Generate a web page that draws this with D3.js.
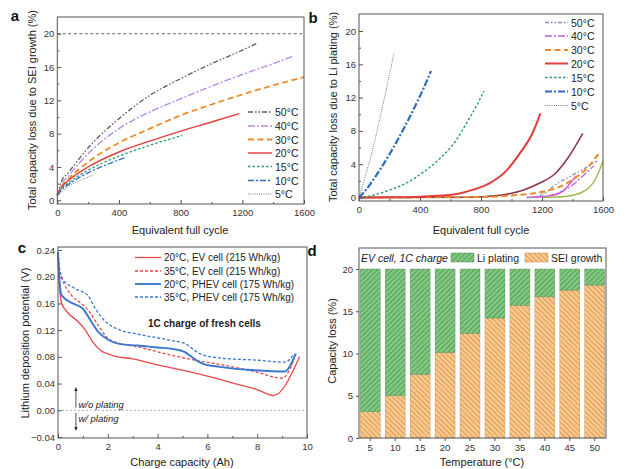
<!DOCTYPE html>
<html>
<head>
<meta charset="utf-8">
<script src="https://cdn.jsdelivr.net/npm/d3@7"></script>
<style>
  body { margin: 0; background: #fff; }
  svg { font-family: "Liberation Sans", Arial, sans-serif; }
  .tick text { font-size: 9.5px; fill: #333; }
  .tick line { stroke: #555; }
  .title { font-size: 11px; fill: #222; }
  .leg { font-size: 10.5px; fill: #222; }
</style>
</head>
<body>
<div id="fig"></div>
<script>
// ---------- data ----------
var cycleTicks = [0, 400, 800, 1200, 1600];
var cycleMinor = [200, 600, 1000, 1400];
var lossTicks = [0, 4, 8, 12, 16, 20];
var lossMinor = [2, 6, 10, 14, 18];

var tempNames = ["50°C", "40°C", "30°C", "20°C", "15°C", "10°C", "5°C"];

// a: capacity loss from SEI growth, [cycle, %]
var sei50 = [[0,0.6],[25,2.2],[71,3.3],[200,6.3],[400,9.8],[600,12.6],[800,14.6],[1000,16.4],[1150,17.6],[1290,18.8]];
var sei40 = [[0,0.6],[25,1.8],[80,3.1],[200,5.6],[400,8.6],[600,10.6],[800,12.2],[1000,13.7],[1200,15.1],[1400,16.4],[1530,17.3]];
var sei30 = [[0,0.6],[25,1.5],[80,2.7],[200,4.6],[400,6.9],[600,8.6],[800,10.2],[1000,11.5],[1200,12.7],[1400,13.8],[1600,14.8]];
var sei20 = [[0,0.6],[25,1.5],[80,2.5],[200,4.0],[400,5.8],[600,7.1],[800,8.3],[1000,9.4],[1180,10.4]];
var sei15 = [[0,0.6],[25,1.3],[80,2.2],[200,3.6],[400,5.3],[600,6.6],[810,7.8]];
var sei10 = [[0,0.6],[25,1.2],[80,2.0],[200,3.3],[350,4.5],[450,5.2]];
var sei5 = [[0,0.5],[60,1.5],[150,2.4],[230,3.0]];
var seiLimit = 20;

// b: capacity loss from Li plating, [cycle, %]
var plate50 = [[1100,0],[1200,0.3],[1285,1.5],[1380,2.5],[1480,3.5],[1560,4.4]];
var plate45 = [[1200,0],[1362,0.15],[1471,0.7],[1520,1.4],[1559,2.5],[1600,4.4]];
var plate40 = [[1150,0],[1300,0.5],[1400,1.5],[1480,2.8],[1540,3.8]];
var plate35 = [[1100,0],[1250,0.2],[1339,0.8],[1406,2.2],[1425,2.6]];
var plate30 = [[0,0],[800,0.05],[1000,0.25],[1150,0.5],[1252,0.9],[1318,1.3],[1428,2.5],[1500,3.6],[1580,5.5]];
var plate25 = [[0,0],[600,0.02],[800,0.1],[957,0.35],[1080,0.9],[1175,1.65],[1285,2.85],[1372,4.8],[1467,7.7]];
var plate20 = [[0,0],[200,0.02],[400,0.1],[630,0.4],[750,0.95],[848,1.65],[957,3.05],[1066,5.6],[1132,7.5],[1190,10.1]];
var plate15 = [[0,0],[100,0.3],[193,0.85],[302,1.65],[411,2.9],[520,4.5],[630,6.7],[717,9.3],[770,11],[820,12.8]];
var plate10 = [[0,0],[50,1.0],[100,2.3],[150,3.7],[200,5.2],[250,6.8],[300,8.5],[350,10.3],[400,12.2],[440,13.8],[472,15.2]];
var plate5 = [[0,0],[40,2.5],[83,5.3],[149,10.5],[190,13.9],[230,17.4]];

// c: lithium deposition potential, [Ah, V]
var potTicks = [-0.04, 0, 0.04, 0.08, 0.12, 0.16, 0.20, 0.24];
var capTicks = [0, 2, 4, 6, 8, 10];
var capMinor = [1, 3, 5, 7, 9];
var cellNames = ["20°C, EV cell (215 Wh/kg)", "35°C, EV cell (215 Wh/kg)",
                 "20°C, PHEV cell (175 Wh/kg)", "35°C, PHEV cell (175 Wh/kg)"];
var ev20 = [[0,0.237],[0.05,0.19],[0.15,0.16],[0.4,0.146],[0.8,0.133],[1.1,0.12],[1.4,0.102],[1.7,0.09],[2.2,0.082],[3.0,0.077],[4.0,0.068],[5.0,0.06],[6.0,0.051],[7.0,0.041],[8.0,0.031],[8.65,0.022],[9.7,0.08]];
var ev35 = [[0,0.237],[0.05,0.215],[0.15,0.2],[0.55,0.172],[1.0,0.158],[1.25,0.148],[1.6,0.128],[2.0,0.108],[2.5,0.1],[3.2,0.095],[4.5,0.083],[5.5,0.075],[6.6,0.068],[7.9,0.058],[9.0,0.048],[9.5,0.078]];
var phev20 = [[0,0.237],[0.05,0.2],[0.15,0.172],[0.6,0.16],[1.0,0.152],[1.3,0.135],[1.6,0.118],[2.0,0.106],[2.5,0.099],[3.2,0.097],[4.0,0.094],[4.6,0.092],[5.1,0.087],[5.4,0.079],[5.8,0.07],[6.5,0.065],[7.9,0.06],[9.1,0.058],[9.55,0.085]];
var phev35 = [[0,0.237],[0.05,0.215],[0.15,0.198],[0.7,0.182],[1.2,0.172],[1.5,0.152],[1.9,0.133],[2.5,0.12],[3.2,0.114],[4.5,0.105],[5.1,0.1],[5.4,0.092],[5.8,0.083],[6.6,0.078],[8.0,0.075],[9.1,0.072],[9.5,0.085]];

// d: capacity loss split at 20 %
var barTemps = ["5", "10", "15", "20", "25", "30", "35", "40", "45", "50"];
var barSei = [3.1, 5.0, 7.5, 10.1, 12.4, 14.2, 15.7, 16.7, 17.5, 18.1];
var barPlating = [16.9, 15.0, 12.5, 9.9, 7.6, 5.8, 4.3, 3.3, 2.5, 1.9];
var barTicks = [0, 5, 10, 15, 20];

// ---------- drawing ----------
var svg = d3.select("#fig").append("svg")
  .attr("width", 627)
  .attr("height", 469);

var defs = svg.append("defs");

function hatch(id, fill, line, angle) {
  var p = defs.append("pattern")
    .attr("id", id)
    .attr("patternUnits", "userSpaceOnUse")
    .attr("width", 3.6)
    .attr("height", 3.6)
    .attr("patternTransform", "rotate(" + angle + ")");
  p.append("rect").attr("width", 3.6).attr("height", 3.6).attr("fill", fill);
  p.append("line").attr("x1", 0.5).attr("x2", 0.5).attr("y1", 0).attr("y2", 3.6)
    .attr("stroke", line).attr("stroke-width", 0.9);
}
hatch("hGreen", "#82c882", "#4e9a55", 45);
hatch("hOrange", "#f9ca90", "#d99548", -45);

var marker = defs.append("marker")
  .attr("id", "arrow")
  .attr("viewBox", "0 0 10 10")
  .attr("refX", 5).attr("refY", 5)
  .attr("markerWidth", 5).attr("markerHeight", 5)
  .attr("orient", "auto-start-reverse");
marker.append("path").attr("d", "M0,1 L10,5 L0,9 z").attr("fill", "#222");

// axes with inward ticks (panels a-c)
function axesIn(g, x, y, box, xt, xm, yt, ym, yfmt) {
  g.append("g")
    .attr("transform", "translate(0," + box.y1 + ")")
    .call(d3.axisBottom(x).tickValues(xt).tickSize(-4).tickPadding(5).tickFormat(d3.format("d")))
    .call(s => s.select(".domain").remove());
  g.append("g")
    .attr("transform", "translate(0," + box.y1 + ")")
    .call(d3.axisBottom(x).tickValues(xm).tickSize(-2).tickFormat(""))
    .call(s => s.select(".domain").remove());
  g.append("g")
    .attr("transform", "translate(" + box.x0 + ",0)")
    .call(d3.axisLeft(y).tickValues(yt).tickSize(-4).tickPadding(3).tickFormat(yfmt || d3.format("d")))
    .call(s => s.select(".domain").remove());
  if (ym) {
    g.append("g")
      .attr("transform", "translate(" + box.x0 + ",0)")
      .call(d3.axisLeft(y).tickValues(ym).tickSize(-2).tickFormat(""))
      .call(s => s.select(".domain").remove());
  }
}

function frame(g, box) {
  g.append("rect")
    .attr("x", box.x0).attr("y", box.y0)
    .attr("width", box.x1 - box.x0).attr("height", box.y1 - box.y0)
    .attr("fill", "none").attr("stroke", "#555").attr("stroke-width", 1);
}

function panelLetter(t, x, y) {
  svg.append("text").attr("x", x).attr("y", y)
    .attr("text-anchor", "middle").attr("dominant-baseline", "central")
    .attr("font-size", 15).attr("font-weight", "bold").attr("fill", "#111")
    .text(t);
}

function yTitle(t, x, y) {
  svg.append("text").attr("class", "title")
    .attr("transform", "translate(" + x + "," + y + ") rotate(-90)")
    .attr("text-anchor", "middle").attr("dominant-baseline", "central")
    .text(t);
}
function xTitle(t, x, y) {
  svg.append("text").attr("class", "title")
    .attr("x", x).attr("y", y)
    .attr("text-anchor", "middle").attr("dominant-baseline", "central")
    .text(t);
}

function drawLines(g, x, y, series) {
  var line = d3.line()
    .x(d => x(d[0]))
    .y(d => y(d[1]))
    .curve(d3.curveMonotoneX);
  series.forEach(function(s) {
    g.append("path")
      .attr("d", line(s.data))
      .attr("fill", "none")
      .attr("stroke", s.color)
      .attr("stroke-width", s.width)
      .attr("stroke-dasharray", s.dash);
  });
}

function legend(g, items, x0, x1, rows) {
  items.forEach(function(s, i) {
    g.append("line")
      .attr("x1", x0).attr("x2", x1)
      .attr("y1", rows[i]).attr("y2", rows[i])
      .attr("stroke", s.color).attr("stroke-width", s.width)
      .attr("stroke-dasharray", s.dash);
    g.append("text").attr("class", "leg")
      .attr("x", x1 + 3).attr("y", rows[i])
      .attr("dominant-baseline", "central")
      .text(s.name);
  });
}

// ---- panel a ----
var boxA = {x0: 57.3, x1: 304, y0: 17, y1: 204};
var xA = d3.scaleLinear().domain([0, 1600]).range([57.3, 304]);
var yA = d3.scaleLinear().domain([0, 20]).range([200.3, 33.7]);
var gA = svg.append("g");

gA.append("line")
  .attr("x1", boxA.x0).attr("x2", boxA.x1)
  .attr("y1", yA(seiLimit)).attr("y2", yA(seiLimit))
  .attr("stroke", "#555").attr("stroke-width", 0.9).attr("stroke-dasharray", "3,2.5");

var seriesA = [
  {name: tempNames[0], data: sei50, color: "#5f5462", width: 1.3, dash: "5,2,1.5,2,1.5,2"},
  {name: tempNames[1], data: sei40, color: "#b98be0", width: 1.4, dash: "7,2,2,2"},
  {name: tempNames[2], data: sei30, color: "#f08a24", width: 1.8, dash: "6,3.5"},
  {name: tempNames[3], data: sei20, color: "#e53c3c", width: 1.4, dash: null},
  {name: tempNames[4], data: sei15, color: "#2a9d6e", width: 1.3, dash: "2.5,2"},
  {name: tempNames[5], data: sei10, color: "#2e6cc0", width: 1.3, dash: "6,2,2,2"},
  {name: tempNames[6], data: sei5, color: "#777", width: 1, dash: "1,1.2"}
];
drawLines(gA, xA, yA, seriesA);
legend(gA, seriesA, 248, 272, [112, 126, 139.5, 153, 166.5, 180.5, 194]);
frame(gA, boxA);
axesIn(gA, xA, yA, boxA, cycleTicks, cycleMinor, lossTicks, lossMinor);
yTitle("Total capacity loss due to SEI growth (%)", 32, 110);
xTitle("Equivalent full cycle", 180, 230);
panelLetter("a", 15, 15);

// ---- panel b ----
var boxB = {x0: 359, x1: 603, y0: 14, y1: 201};
var xB = d3.scaleLinear().domain([0, 1600]).range([359, 603]);
var yB = d3.scaleLinear().domain([0, 20]).range([197.5, 31]);
var gB = svg.append("g");

var seriesB = [
  {name: tempNames[0], data: plate50, color: "#8d8fb0", width: 1.3, dash: "4,2,1.5,2,1.5,2"},
  {name: tempNames[1], data: plate40, color: "#c060e0", width: 1.3, dash: "7,2,2,2"},
  {name: tempNames[2], data: plate30, color: "#f08a24", width: 2, dash: "6,3.5"},
  {name: tempNames[3], data: plate20, color: "#e53c3c", width: 2, dash: null},
  {name: tempNames[4], data: plate15, color: "#2a9d6e", width: 1.4, dash: "2.5,2"},
  {name: tempNames[5], data: plate10, color: "#2e6cc0", width: 2.2, dash: "7,2,2,2"},
  {name: tempNames[6], data: plate5, color: "#777", width: 1, dash: "1,1.2"}
];
var extraB = [
  {name: "25°C", data: plate25, color: "#8a3548", width: 1.5, dash: null},
  {name: "35°C", data: plate35, color: "#e040e0", width: 1.4, dash: null},
  {name: "45°C", data: plate45, color: "#9bb84a", width: 1.4, dash: null}
];
drawLines(gB, xB, yB, extraB);
drawLines(gB, xB, yB, seriesB);
legend(gB, seriesB, 545, 568, [22.5, 36, 50, 63.5, 77.5, 91.5, 105.5]);
frame(gB, boxB);
axesIn(gB, xB, yB, boxB, cycleTicks, cycleMinor, lossTicks, lossMinor);
yTitle("Total capacity loss due to Li plating (%)", 333, 107);
xTitle("Equivalent full cycle", 481, 230);
panelLetter("b", 313, 17);

// ---- panel c ----
var boxC = {x0: 58, x1: 307, y0: 247, y1: 438};
var xC = d3.scaleLinear().domain([0, 10]).range([58, 307]);
var yC = d3.scaleLinear().domain([-0.04, 0.24]).range([437, 250]);
var gC = svg.append("g");

gC.append("line")
  .attr("x1", boxC.x0).attr("x2", boxC.x1)
  .attr("y1", yC(0)).attr("y2", yC(0))
  .attr("stroke", "#aaa").attr("stroke-width", 1).attr("stroke-dasharray", "2,2");

var seriesC = [
  {name: cellNames[0], data: ev20, color: "#e8474a", width: 1.3, dash: null},
  {name: cellNames[1], data: ev35, color: "#e8474a", width: 1.3, dash: "3,2"},
  {name: cellNames[2], data: phev20, color: "#3a78d0", width: 1.9, dash: null},
  {name: cellNames[3], data: phev35, color: "#3a78d0", width: 1.3, dash: "3,2"}
];
drawLines(gC, xC, yC, seriesC);
var gCL = gC.append("g");
legend(gCL, seriesC, 135, 161, [257.5, 271, 284, 297]);
gCL.selectAll("text").style("font-size", "10px");

gC.append("text")
  .attr("x", 148).attr("y", 323)
  .attr("dominant-baseline", "central")
  .attr("font-size", 10).attr("font-weight", "bold").attr("fill", "#222")
  .text("1C charge of fresh cells");

// plating arrows
gC.append("line")
  .attr("x1", xC(0.72)).attr("x2", xC(0.72))
  .attr("y1", yC(0.004)).attr("y2", yC(0.032))
  .attr("stroke", "#222").attr("stroke-width", 0.8)
  .attr("marker-end", "url(#arrow)");
gC.append("line")
  .attr("x1", xC(0.72)).attr("x2", xC(0.72))
  .attr("y1", yC(-0.004)).attr("y2", yC(-0.028))
  .attr("stroke", "#222").attr("stroke-width", 0.8)
  .attr("marker-end", "url(#arrow)");
gC.append("text")
  .attr("x", xC(0.82)).attr("y", yC(0.008))
  .attr("dominant-baseline", "central")
  .attr("font-size", 9.5).attr("font-style", "italic").attr("fill", "#222")
  .text("w/o plating");
gC.append("text")
  .attr("x", xC(0.82)).attr("y", yC(-0.013))
  .attr("dominant-baseline", "central")
  .attr("font-size", 9.5).attr("font-style", "italic").attr("fill", "#222")
  .text("w/ plating");

frame(gC, boxC);
axesIn(gC, xC, yC, boxC, capTicks, capMinor, potTicks, null, d3.format(".2f"));
yTitle("Lithium deposition potential (V)", 25, 343);
xTitle("Charge capacity (Ah)", 182, 462);
panelLetter("c", 22, 247);

// ---- panel d ----
var boxD = {x0: 359, x1: 606, y0: 248, y1: 438};
var xD = d3.scaleBand().domain(barTemps).range([359, 606]).paddingInner(0.2).paddingOuter(0.05);
var yD = d3.scaleLinear().domain([0, 20]).range([438, 269]);
var gD = svg.append("g");

gD.selectAll(".sei")
  .data(barTemps)
  .enter()
  .append("rect")
  .attr("x", d => xD(d))
  .attr("width", xD.bandwidth())
  .attr("y", (d, i) => yD(barSei[i]))
  .attr("height", (d, i) => yD(0) - yD(barSei[i]))
  .attr("fill", "url(#hOrange)")
  .attr("stroke", "#b88a55").attr("stroke-width", 0.4);

gD.selectAll(".plate")
  .data(barTemps)
  .enter()
  .append("rect")
  .attr("x", d => xD(d))
  .attr("width", xD.bandwidth())
  .attr("y", (d, i) => yD(barSei[i] + barPlating[i]))
  .attr("height", (d, i) => yD(barSei[i]) - yD(barSei[i] + barPlating[i]))
  .attr("fill", "url(#hGreen)")
  .attr("stroke", "#5a8a5a").attr("stroke-width", 0.4);

// legend
gD.append("text")
  .attr("x", 361).attr("y", 257.5)
  .attr("dominant-baseline", "central")
  .attr("font-size", 10.5).attr("font-style", "italic").attr("fill", "#222")
  .text("EV cell, 1C charge");
gD.append("rect").attr("x", 451).attr("y", 253).attr("width", 23).attr("height", 9)
  .attr("fill", "url(#hGreen)").attr("stroke", "#5a8a5a").attr("stroke-width", 0.5);
gD.append("text").attr("class", "leg")
  .attr("x", 477).attr("y", 257.5).attr("dominant-baseline", "central")
  .text("Li plating");
gD.append("rect").attr("x", 525).attr("y", 253).attr("width", 23).attr("height", 9)
  .attr("fill", "url(#hOrange)").attr("stroke", "#b88a55").attr("stroke-width", 0.5);
gD.append("text").attr("class", "leg")
  .attr("x", 551).attr("y", 257.5).attr("dominant-baseline", "central")
  .text("SEI growth");

frame(gD, boxD);
gD.append("g")
  .attr("transform", "translate(0," + boxD.y1 + ")")
  .call(d3.axisBottom(xD).tickSize(3).tickPadding(3))
  .call(s => s.select(".domain").remove());
gD.append("g")
  .attr("transform", "translate(" + boxD.x0 + ",0)")
  .call(d3.axisLeft(yD).tickValues(barTicks).tickSize(3).tickPadding(3))
  .call(s => s.select(".domain").remove());
yTitle("Capacity loss (%)", 332, 341);
xTitle("Temperature (°C)", 482, 462);
panelLetter("d", 312, 250);
</script>
</body>
</html>
